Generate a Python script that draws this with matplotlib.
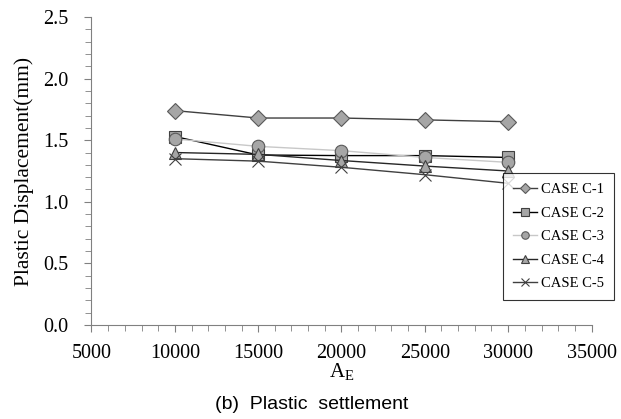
import matplotlib
matplotlib.use("Agg")
import matplotlib.pyplot as plt
from matplotlib.ticker import MultipleLocator, FormatStrFormatter

x = [10000, 15000, 20000, 25000, 30000]
c1 = [1.74, 1.68, 1.68, 1.665, 1.65]
c2 = [1.53, 1.38, 1.375, 1.375, 1.36]
c3 = [1.51, 1.45, 1.415, 1.36, 1.32]
c4 = [1.40, 1.385, 1.335, 1.29, 1.25]
c5 = [1.35, 1.33, 1.28, 1.22, 1.15]
labels = ["CASE C-1", "CASE C-2", "CASE C-3", "CASE C-4", "CASE C-5"]

plt.rcParams['font.family'] = ['Liberation Serif', 'DejaVu Serif']

fig = plt.figure(figsize=(6.21, 4.19), dpi=100)
L, R, T, B = 91.5, 591.5, 17, 325
ax = fig.add_axes([L/621, 1-B/419, (R-L)/621, (B-T)/419])

fill = '#a6a6a6'
edge = '#595959'
ax.plot(x, c1, color='#404040', lw=1.0, marker='D', ms=8, mfc=fill, mec=edge, mew=0.8, label=labels[0], zorder=3)
ax.plot(x, c2, color='#000000', lw=1.0, marker='s', ms=9, mfc=fill, mec='#404040', mew=0.8, label=labels[1], zorder=3)
ax.plot(x, c3, color='#c8c8c8', lw=1.0, marker='o', ms=9, mfc=fill, mec=edge, mew=0.8, label=labels[2], zorder=3)
ax.plot(x, c4, color='#262626', lw=1.0, marker='^', ms=9, mfc=fill, mec='#404040', mew=0.8, label=labels[3], zorder=3)
ax.plot(x, c5, color='#404040', lw=1.0, marker='x', ms=9, mfc=fill, mec='#404040', mew=0.8, label=labels[4], zorder=3)

ax.set_xlim(5000, 35000)
ax.set_ylim(0, 2.5)
ax.xaxis.set_major_locator(MultipleLocator(5000))
ax.xaxis.set_minor_locator(MultipleLocator(1000))
ax.yaxis.set_major_locator(MultipleLocator(0.5))
ax.yaxis.set_minor_locator(MultipleLocator(0.1))
ax.yaxis.set_major_formatter(FormatStrFormatter('%.1f'))
ax.spines['top'].set_visible(False)
ax.spines['right'].set_visible(False)
for s in ['left', 'bottom']:
    ax.spines[s].set_color('#808080')
ax.tick_params(which='both', direction='out', colors='#808080', labelcolor='black', labelsize=14.5)
ax.tick_params(which='major', length=5)
ax.tick_params(which='minor', length=4)
ax.tick_params(axis='x', which='major', pad=8.5)
ax.tick_params(axis='y', which='major', pad=11.5)

ax.set_ylabel('Plastic Displacement(mm)', fontsize=15.5, labelpad=6.5)
ax.set_xlabel(r'A$_\mathregular{E}$', fontsize=15, labelpad=-1)

leg = fig.legend(loc='upper left', bbox_to_anchor=(503/621, 1-173/419), fontsize=10.5,
                 frameon=True, fancybox=False, edgecolor='black', borderpad=0.7,
                 borderaxespad=0, labelspacing=0.7, handlelength=1.6, handletextpad=0.3,
                 markerscale=0.6)
leg.get_frame().set_linewidth(0.8)
leg.set_zorder(10)

fig.text(312/621, 1-404/419, '(b)  Plastic  settlement', ha='center', va='center',
         fontsize=14, family=['Liberation Sans', 'DejaVu Sans'])

fig.savefig('out.png', dpi=100)
